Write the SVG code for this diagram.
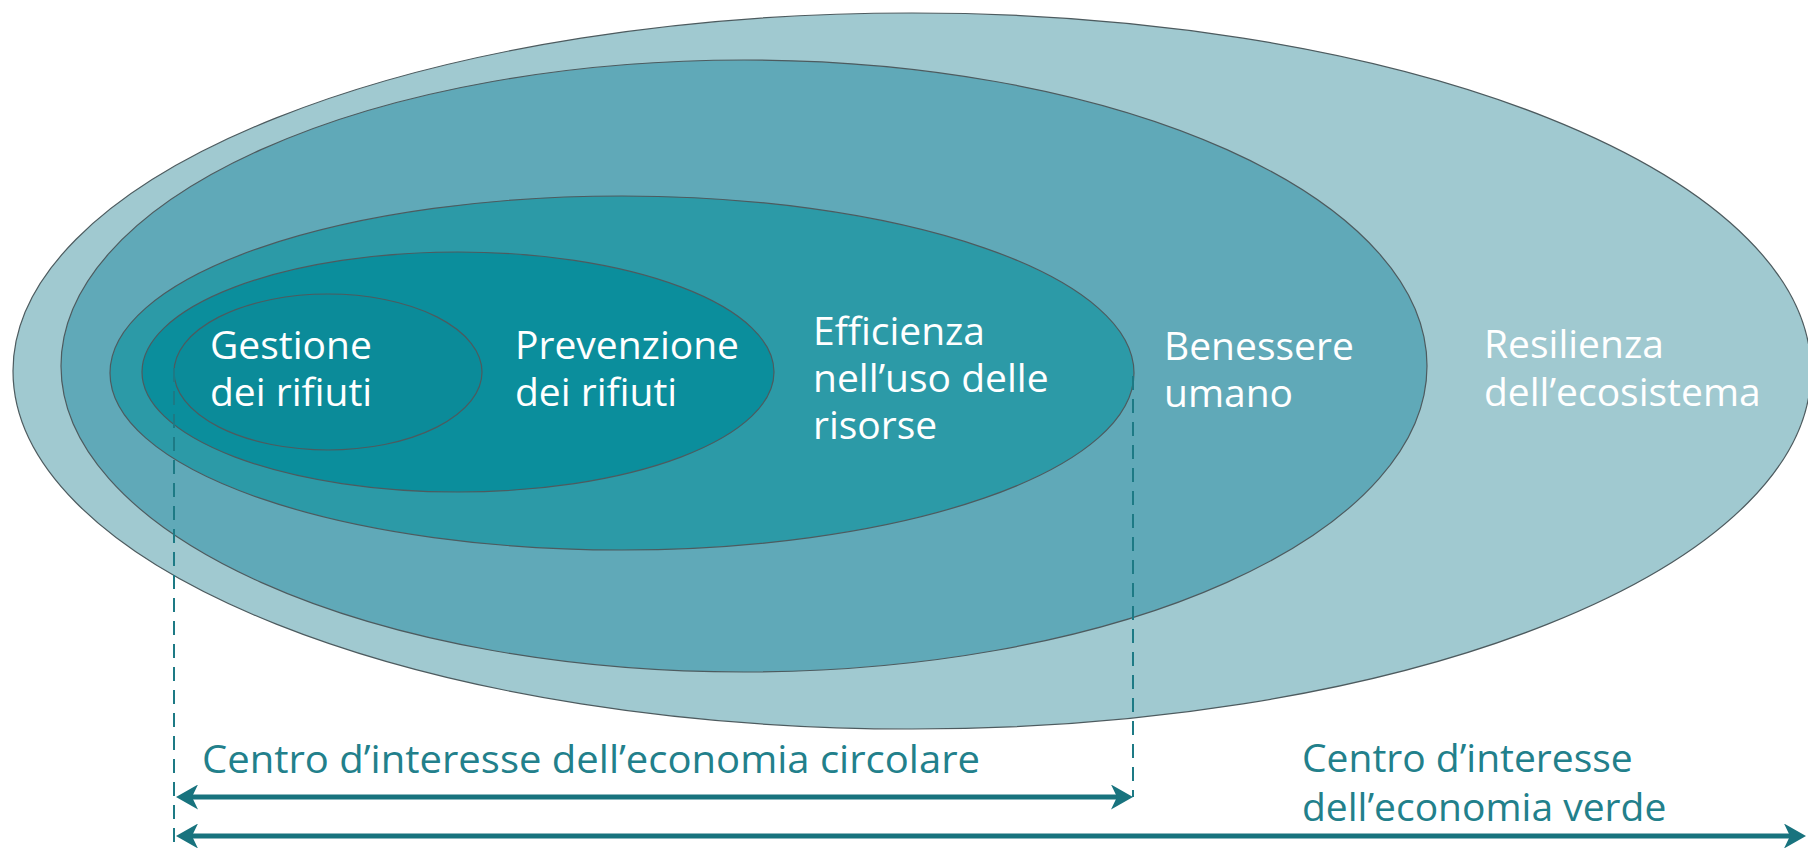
<svg xmlns="http://www.w3.org/2000/svg" width="1808" height="848" viewBox="0 0 1808 848">
  <style>
    .ring { stroke: #4d5b5f; stroke-width: 1.2; }
    .lbl { font-family: "Open Sans", "Noto Sans", "Liberation Sans", sans-serif; font-size: 39px; fill: #ffffff; }
    .cap { font-family: "Open Sans", "Noto Sans", "Liberation Sans", sans-serif; font-size: 39px; fill: #22808b; }
    .guide { stroke: #1d7a85; stroke-width: 2; stroke-dasharray: 14 9; fill: none; }
    .arrow { stroke: #18737e; stroke-width: 5; fill: none; marker-start: url(#ah); marker-end: url(#ah); }
  </style>
  <defs>
    <marker id="ah" viewBox="0 0 22 25" refX="14" refY="12.5" markerWidth="22" markerHeight="25" markerUnits="userSpaceOnUse" orient="auto-start-reverse">
      <path d="M0,0 L22,12.5 L0,25 L6,12.5 Z" fill="#18737e"/>
    </marker>
  </defs>
  <rect width="1808" height="848" fill="#ffffff"/>

  <g id="resilienza">
    <ellipse class="ring" cx="912" cy="371" rx="899" ry="358" fill="#a0c9d0"/>
  </g>
  <g id="benessere">
    <ellipse class="ring" cx="744" cy="366" rx="683" ry="306" fill="#60a9b8"/>
  </g>
  <g id="efficienza">
    <ellipse class="ring" cx="622" cy="373" rx="512" ry="177" fill="#2c9aa7"/>
  </g>
  <g id="prevenzione">
    <ellipse class="ring" cx="458" cy="372" rx="316" ry="120" fill="#0b8e9c"/>
  </g>
  <g id="gestione">
    <ellipse class="ring" cx="328" cy="372" rx="154" ry="78" fill="#0b8b99"/>
  </g>

  <g id="connectors">
    <line class="guide" x1="174" y1="368" x2="174" y2="846"/>
    <line class="guide" x1="1133" y1="376" x2="1133" y2="797"/>
    <path class="arrow" d="M184,797 L1125,797"/>
    <path class="arrow" d="M184,836 L1798,836"/>
  </g>

  <g id="labels">
    <text class="lbl"><tspan x="210" y="359">Gestione</tspan><tspan x="210" y="406">dei rifiuti</tspan></text>
    <text class="lbl"><tspan x="515" y="359">Prevenzione</tspan><tspan x="515" y="406">dei rifiuti</tspan></text>
    <text class="lbl"><tspan x="813" y="345">Efficienza</tspan><tspan x="813" y="392">nell’uso delle</tspan><tspan x="813" y="439">risorse</tspan></text>
    <text class="lbl"><tspan x="1164" y="360">Benessere</tspan><tspan x="1164" y="407">umano</tspan></text>
    <text class="lbl"><tspan x="1484" y="358">Resilienza</tspan><tspan x="1484" y="406">dell’ecosistema</tspan></text>
    <text class="cap" x="202" y="773" textLength="778" lengthAdjust="spacingAndGlyphs">Centro d’interesse dell’economia circolare</text>
    <text class="cap"><tspan x="1302" y="772">Centro d’interesse</tspan><tspan x="1302" y="821">dell’economia verde</tspan></text>
  </g>
</svg>
